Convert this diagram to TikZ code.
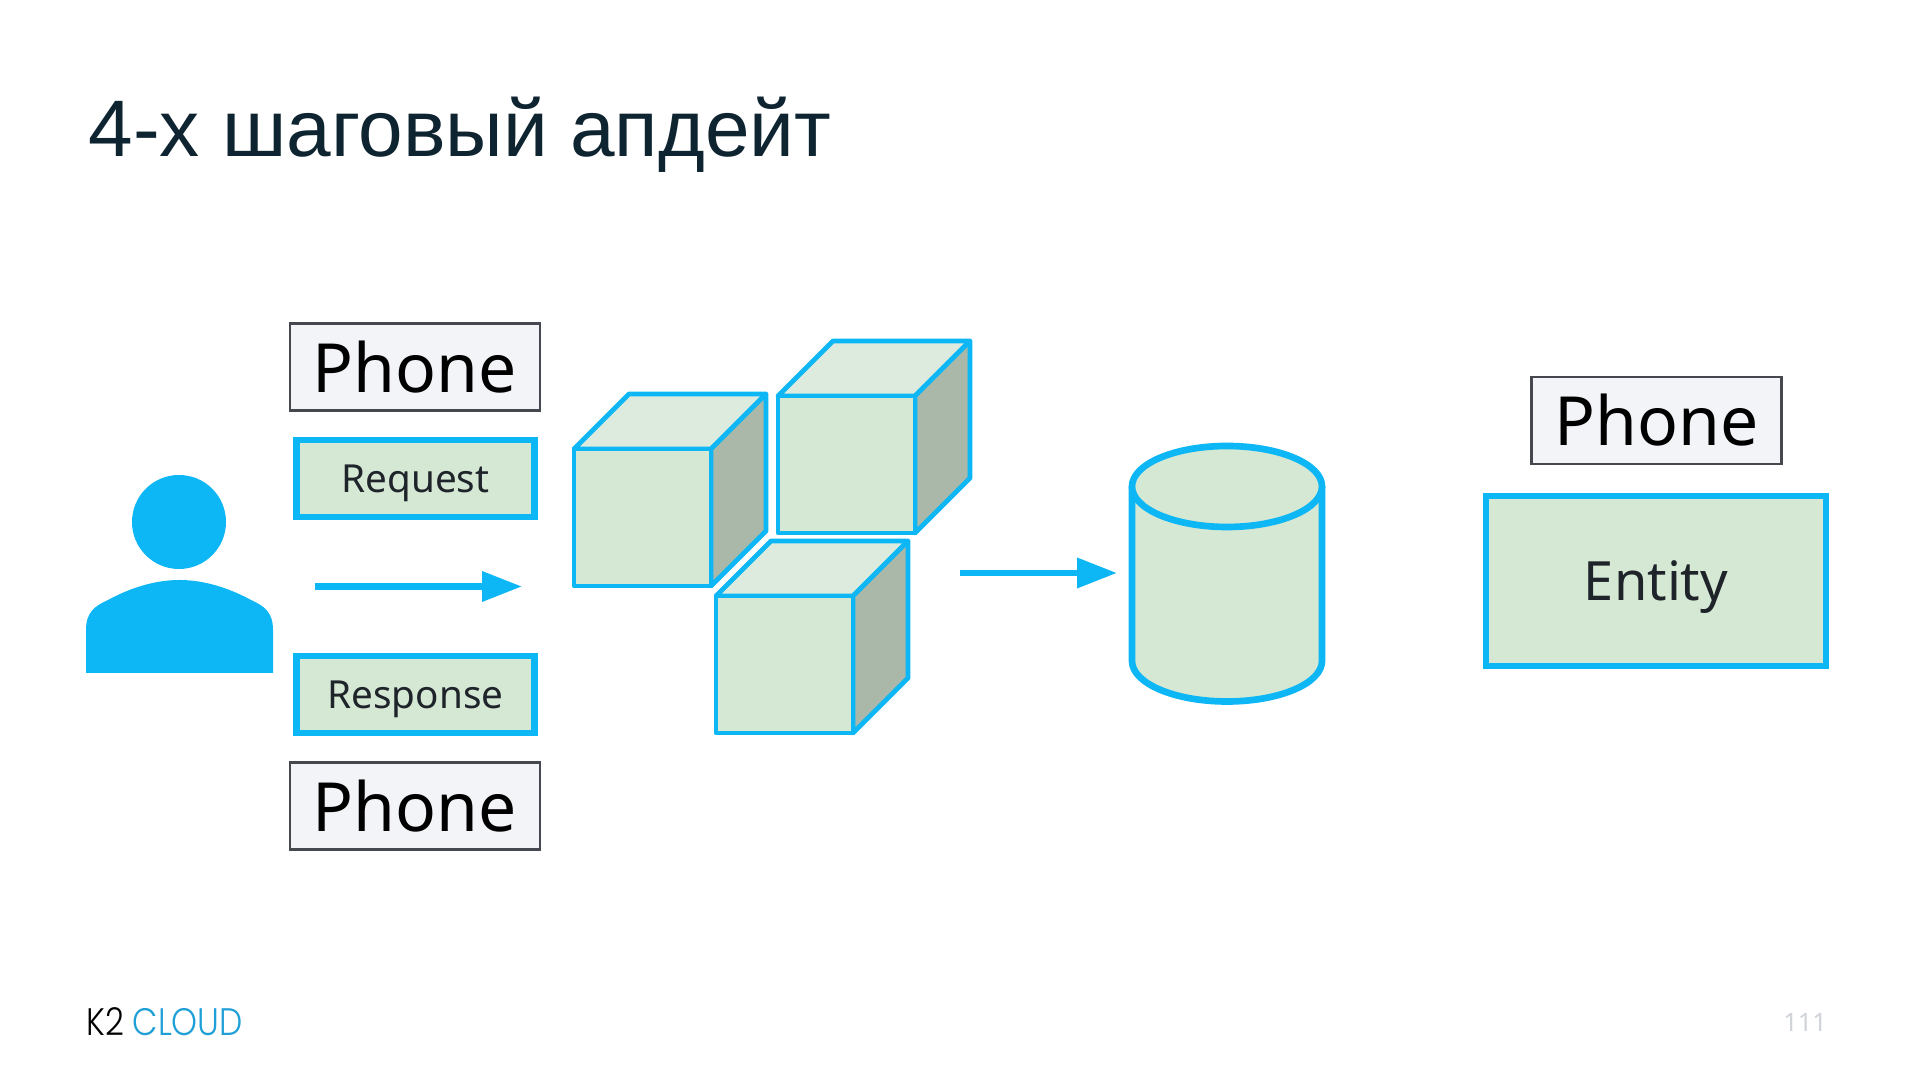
\documentclass[tikz,border=0pt]{standalone}
\usepackage{fontspec}
\setmainfont{Noto Sans}
\newfontfamily\titlefont{Liberation Sans}
\newfontfamily\logofont[FakeStretch=0.86]{Poppins Light}
\usetikzlibrary{arrows.meta,positioning,calc}
\definecolor{SkyBlue}{RGB}{13,183,245}
\definecolor{PaleGreen}{RGB}{213,232,212}
\definecolor{TopGreen}{RGB}{221,235,223}
\definecolor{SideGreen}{RGB}{169,184,169}
\definecolor{PhoneFill}{RGB}{242,244,248}
\definecolor{PhoneEdge}{RGB}{70,72,80}
\definecolor{TitleInk}{RGB}{14,36,48}
\definecolor{BodyInk}{RGB}{30,36,42}
\definecolor{PageGray}{RGB}{208,212,216}
\definecolor{LogoBlue}{RGB}{30,160,215}
\tikzset{
  phonebox/.style={draw=PhoneEdge,line width=0.6pt,fill=PhoneFill,minimum width=2.5cm,minimum height=0.87cm,inner sep=0pt,text=black,font=\fontsize{19.3}{21}\selectfont},
  msgbox/.style={draw=SkyBlue,line width=1.9pt,fill=PaleGreen,minimum width=2.38cm,minimum height=0.77cm,inner sep=0pt,text depth=0pt,text=BodyInk,font=\fontsize{11}{13}\selectfont},
  entitybox/.style={draw=SkyBlue,line width=1.9pt,fill=PaleGreen,minimum width=3.4cm,minimum height=1.7cm,inner sep=0pt,text depth=0pt,text=BodyInk,font=\fontsize{15.4}{18}\selectfont},
  flow/.style={-{Triangle[length=4mm,width=2.9mm]},draw=SkyBlue,line width=1.9pt},
  face/.style={draw=SkyBlue,line width=1.35pt,line join=round},
  titletext/.style={anchor=base west,inner sep=0pt,text=TitleInk,font=\titlefont\fontsize{22.8}{26}\selectfont},
  pagenum/.style={inner sep=0pt,text=PageGray,font=\fontsize{7.2}{8}\selectfont},
  logotext/.style={inner sep=0pt,font=\logofont\fontsize{10.9}{12}\selectfont}
}
\begin{document}
\begin{tikzpicture}[x=1cm,y=1cm]
\useasboundingbox (0,0) rectangle (19.2,10.8);
\fill[white] (0,0) rectangle (19.2,10.8);

\node[titletext] (title) at (0.88,9.23) {4-х шаговый апдейт};

% user
\fill[SkyBlue] (1.79,5.58) ellipse (0.47 and 0.47);
\fill[SkyBlue] (0.86,4.07) -- (0.86,4.5) .. controls (0.86,4.68) and (0.95,4.74) .. (1.08,4.8)
  .. controls (1.3,4.92) and (1.55,5.0) .. (1.795,5.0)
  .. controls (2.04,5.0) and (2.29,4.92) .. (2.51,4.8)
  .. controls (2.64,4.74) and (2.73,4.68) .. (2.73,4.5) -- (2.73,4.07) -- cycle;

\node[phonebox] (phonetop) at (4.15,7.13) {Phone};
\node[msgbox] (request) at (4.155,6.015) {Request};
\node[msgbox] (response) at (4.155,3.855) {Response};
\node[phonebox] (phonebottom) at (4.15,2.74) {Phone};

\coordinate (reqstart) at (3.15,4.935);
\coordinate (reqend) at (5.22,4.935);
\draw[flow] (reqstart)--(reqend);

% cubes
\foreach \cx/\cy in {5.74/4.94,7.78/5.47,7.16/3.47}{
  \draw[face,fill=TopGreen] (\cx,\cy+1.37)--++(0.55,0.55)--++(1.37,0)--++(-0.55,-0.55)--cycle;
  \draw[face,fill=SideGreen] (\cx+1.37,\cy)--++(0.55,0.55)--++(0,1.37)--++(-0.55,-0.55)--cycle;
  \draw[face,fill=PaleGreen] (\cx,\cy) rectangle ++(1.37,1.37);
}

\coordinate (dbstart) at (9.6,5.07);
\coordinate (dbend) at (11.17,5.07);
\draw[flow] (dbstart)--(dbend);

% database
\draw[face,line width=1.9pt,fill=PaleGreen] (11.32,5.935)--(11.32,4.19) arc[start angle=180,end angle=360,x radius=0.95,y radius=0.405]--(13.22,5.935);
\draw[face,line width=1.9pt,fill=PaleGreen] (12.27,5.935) ellipse (0.95 and 0.405);

\node[phonebox] (phoneright) at (16.565,6.595) {Phone};
\node[entitybox] (entity) at (16.56,4.99) {Entity};

\node[logotext,anchor=base west,text=black] (logok) at (0.86,0.44) {K2};
\node[logotext,base right=0.07cm of logok,text=LogoBlue] (logocloud) {CLOUD};
\node[pagenum] (pagenum) at (18.05,0.58) {111};
\end{tikzpicture}
\end{document}
